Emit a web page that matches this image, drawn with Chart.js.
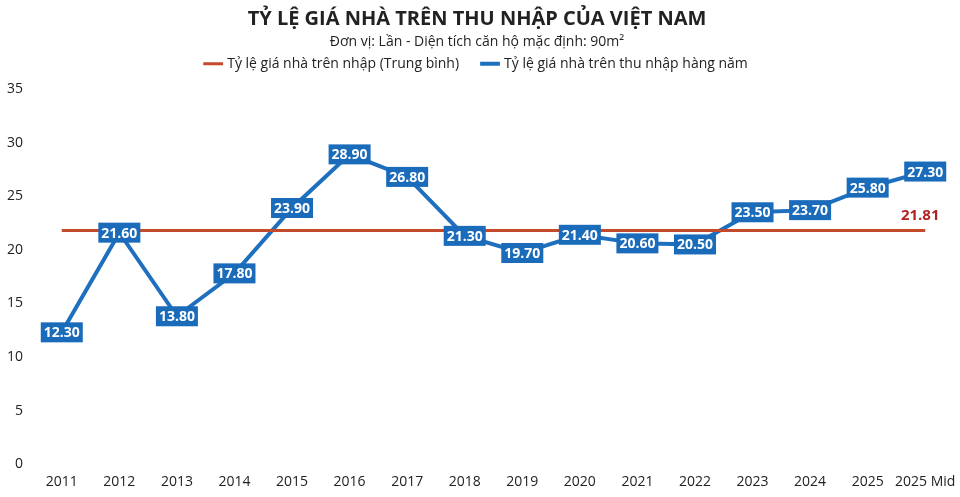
<!DOCTYPE html>
<html>
<head>
<meta charset="utf-8">
<script src="https://cdn.jsdelivr.net/npm/chart.js@4/dist/chart.umd.min.js"></script>
<style>
  html, body { margin: 0; padding: 0; background: #fff; }
  #wrap { width: 960px; height: 497px; position: relative; }
</style>
</head>
<body>
<div id="wrap"><canvas id="graphs"></canvas></div>
<script>
var categories = ['2011', '2012', '2013', '2014', '2015', '2016', '2017', '2018', '2019', '2020', '2021', '2022', '2023', '2024', '2025', '2025 Mid'];
var tyLeHangNam = [12.3, 21.6, 13.8, 17.8, 23.9, 28.9, 26.8, 21.3, 19.7, 21.4, 20.6, 20.5, 23.5, 23.7, 25.8, 27.3];
var trungBinh = 21.81;
var donTrungBinh = categories.map(() => trungBinh);

var mauXanh = '#1e6fbd';
var mauDo = '#c44a2b';

// nhan du lieu : hop xanh chu trang + nhan trung binh o cuoi
var nhanDuLieu = {
    id: 'nhanDuLieu',
    beforeInit(chart) {
        // them khoang trong duoi chu thich
        var fitGoc = chart.legend.fit;
        chart.legend.fit = function() {
            fitGoc.bind(chart.legend)();
            this.height += 7;
        };
    },
    afterDatasetsDraw(chart) {
        var ctx = chart.ctx;
        ctx.save();
        ctx.font = 'bold 14px "Open Sans"';
        ctx.textAlign = 'center';
        ctx.textBaseline = 'middle';
        var meta = chart.getDatasetMeta(1);
        meta.data.forEach((pt, i) => {
            var txt = tyLeHangNam[i].toFixed(2);
            var w = ctx.measureText(txt).width + 6;
            var h = 20;
            ctx.fillStyle = '#1a6bba';
            ctx.fillRect(pt.x - w / 2, pt.y - h / 2, w, h);
            ctx.fillStyle = '#fff';
            ctx.fillText(txt, pt.x, pt.y + 1);
        });
        var m0 = chart.getDatasetMeta(0);
        var last = m0.data[m0.data.length - 1];
        ctx.fillStyle = '#b22222';
        ctx.font = 'bold 15px "Open Sans"';
        ctx.fillText(trungBinh.toFixed(2), last.x - 5, last.y - 15);
        ctx.restore();
    }
};

var ctx = document.getElementById('graphs').getContext('2d');
var currentChart = new Chart(ctx, {
    type: 'line',
    data: {
        labels: categories,
        datasets: [{
            label: 'Tỷ lệ giá nhà trên nhập (Trung bình)',
            data: donTrungBinh,
            borderColor: mauDo,
            backgroundColor: mauDo,
            borderWidth: 3,
            pointRadius: 0,
            pointStyle: 'line'
        }, {
            label: 'Tỷ lệ giá nhà trên thu nhập hàng năm',
            data: tyLeHangNam,
            borderColor: mauXanh,
            backgroundColor: mauXanh,
            borderWidth: 4,
            pointRadius: 0,
            pointStyle: 'line',
            tension: 0
        }]
    },
    options: {
        responsive: true,
        maintainAspectRatio: false,
        animation: false,
        layout: { padding: { left: 0, right: 6, top: 0, bottom: 2 } },
        plugins: {
            title: {
                display: true,
                text: 'TỶ LỆ GIÁ NHÀ TRÊN THU NHẬP CỦA VIỆT NAM',
                color: '#222',
                font: { family: '"Open Sans"', size: 20, weight: 'bold' },
                padding: { top: 7, bottom: 3 }
            },
            subtitle: {
                display: true,
                text: 'Đơn vị: Lần - Diện tích căn hộ mặc định: 90m²',
                color: '#222',
                font: { family: '"Open Sans"', size: 14 },
                padding: { top: 0, bottom: -18 }
            },
            legend: {
                display: true,
                position: 'top',
                labels: {
                    usePointStyle: true,
                    pointStyle: 'line',
                    boxWidth: 22,
                    color: '#222',
                    font: { family: '"Open Sans"', size: 14 },
                    padding: 24
                }
            },
            tooltip: { enabled: false }
        },
        scales: {
            x: {
                offset: true,
                grid: { display: false },
                border: { display: false },
                ticks: { color: '#222', font: { family: '"Open Sans"', size: 14 }, maxRotation: 0, autoSkip: false }
            },
            y: {
                min: 0,
                max: 35,
                grid: { display: false },
                border: { display: false },
                afterFit(scale) { scale.width = 33; },
                ticks: { stepSize: 5, color: '#222', font: { family: '"Open Sans"', size: 14 }, padding: 2 }
            }
        }
    },
    plugins: [nhanDuLieu]
});
</script>
</body>
</html>
